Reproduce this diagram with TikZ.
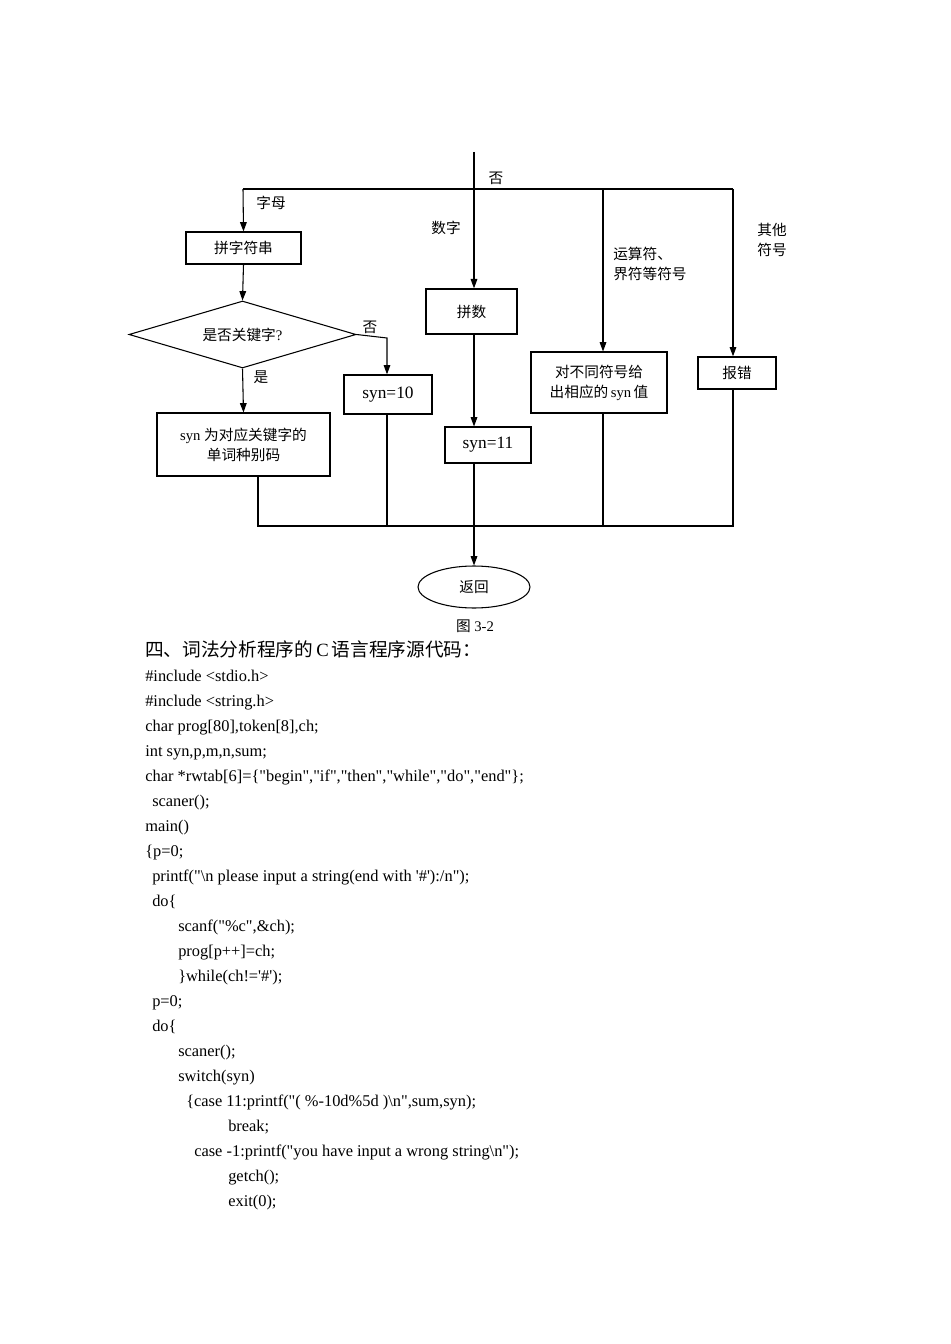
\documentclass[tikz,border=0pt]{standalone}
\usepackage{fontspec}
\setmainfont{Liberation Serif}
\newfontfamily\code{Liberation Serif}
\newfontfamily\cjk{Noto Sans CJK SC}
\usetikzlibrary{arrows.meta,shapes.geometric}
\begin{document}
\begin{tikzpicture}[x=0.75pt,y=-0.75pt,
  ln/.style={line width=0.8pt},
  ar/.style={ln,-{Triangle[length=7pt,width=5pt]}},
  bx/.style={draw,line width=0.8pt,inner sep=0pt,font=\fontsize{11}{15}\selectfont,align=center},
  lb/.style={inner sep=0pt,font=\fontsize{11}{15}\selectfont\cjk,align=left},
  cd/.style={anchor=base west,inner sep=0pt,font=\fontsize{12.3}{14}\selectfont\code}]
\useasboundingbox (0,0) rectangle (950,1344);
% nodes
\node[bx,minimum width=115*0.75pt,minimum height=32*0.75pt] (pz) at (243.5,248) {\cjk 拼字符串};
\node[diamond,draw,line width=0.8pt,aspect=3.4,minimum width=227*0.75pt,minimum height=67*0.75pt,inner sep=0pt,font=\fontsize{11}{15}\selectfont] (dm) at (242.5,334.5) {{\cjk 是否关键字}?};
\node[bx,minimum width=173*0.75pt,minimum height=63*0.75pt] (kw) at (243.5,444.5) {syn {\cjk 为对应关键字的}\\{\cjk 单词种别码}};
\node[bx,minimum width=88*0.75pt,minimum height=39*0.75pt,font=\fontsize{13}{15}\selectfont,line width=1pt] (s10) at (388,394.5) {syn=10};
\node[bx,minimum width=91*0.75pt,minimum height=45*0.75pt,line width=1pt] (ps) at (471.5,311.5) {\cjk 拼数};
\node[bx,minimum width=86*0.75pt,minimum height=36*0.75pt,font=\fontsize{13}{15}\selectfont] (s11) at (488,445) {syn=11};
\node[bx,minimum width=136*0.75pt,minimum height=61*0.75pt] (op) at (599,382.5) {{\cjk 对不同符号给}\\{\cjk 出相应的}\,syn\,{\cjk 值}};
\node[bx,minimum width=78*0.75pt,minimum height=32*0.75pt,line width=1pt] (er) at (737,373) {\cjk 报错};
\node[ellipse,draw,line width=0.8pt,minimum width=112*0.75pt,minimum height=42*0.75pt,inner sep=0pt,font=\fontsize{11}{15}\selectfont\cjk] (rt) at (474,587) {返回};
% coordinates
\coordinate (top) at (474,152);
\coordinate (hl) at (243,189);
\coordinate (hr) at (733,189);
\coordinate (ho) at (603,189);
\coordinate (bl) at (258,526);
\coordinate (b10) at (387,526);
\coordinate (bm) at (474,526);
\coordinate (bo) at (603,526);
\coordinate (br) at (733,526);
\coordinate (nk) at (387,338);
% connectors
\draw[ar] (top) -- (ps.north -| top);
\draw[ln] (hl) -- (hr);
\draw[ar] (hl) -- (pz.north);
\draw[ar] (ho) -- (op.north -| ho);
\draw[ar] (hr) -- (er.north -| hr);
\draw[ar] (pz.south) -- (dm.north);
\draw[ar] (dm.south) -- (kw.north);
\draw[ar] (dm.east) -- (nk) -- (s10.north -| nk);
\draw[ar] (ps.south -| top) -- (s11.north -| top);
\draw[ln] (kw.south -| bl) -- (bl) -- (br) -- (er.south -| br);
\draw[ln] (s10.south -| b10) -- (b10);
\draw[ln,line width=1.2pt] (op.south -| bo) -- (bo);
\draw[ar] (s11.south -| top) -- (rt.north);
% labels
\node[lb] (l1) at (496,178) {否};
\node[lb] (l2) at (271,203) {字母};
\node[lb] (l3) at (446,228) {数字};
\node[lb,anchor=west] (l4) at (613,264) {运算符、\\界符等符号};
\node[lb] (l5) at (772,240) {其他\\符号};
\node[lb] (l6) at (370,327) {否};
\node[lb] (l7) at (261,377) {是};
\node[inner sep=0pt,font=\fontsize{11}{13}\selectfont] (cap) at (475,626) {{\cjk 图} 3-2};
\node[cd,font=\fontsize{14}{16}\selectfont] (hd) at (145,656) {{\cjk 四、词法分析程序的}\,C\,{\cjk 语言程序源代码：}};
% code
\node[cd] (c1) at (145,681) {\#include <stdio.h>};
\node[cd] (c2) at (145,706) {\#include <string.h>};
\node[cd] (c3) at (145,731) {char prog[80],token[8],ch;};
\node[cd] (c4) at (145,756) {int syn,p,m,n,sum;};
\node[cd] (c5) at (145,781) {char *rwtab[6]=\{"begin","if","then","while","do","end"\};};
\node[cd] (c6) at (152,806) {scaner();};
\node[cd] (c7) at (145,831) {main()};
\node[cd] (c8) at (145,856) {\{p=0;};
\node[cd] (c9) at (152,881) {printf("\textbackslash n please input a string(end with '\#'):/n");};
\node[cd] (c10) at (152,906) {do\{};
\node[cd] (c11) at (178,931) {scanf("\%c",\&ch);};
\node[cd] (c12) at (178,956) {prog[p++]=ch;};
\node[cd] (c13) at (178,981) {\}while(ch!='\#');};
\node[cd] (c14) at (152,1006) {p=0;};
\node[cd] (c15) at (152,1031) {do\{};
\node[cd] (c16) at (178,1056) {scaner();};
\node[cd] (c17) at (178,1081) {switch(syn)};
\node[cd] (c18) at (186,1106) {\{case 11:printf("( \%-10d\%5d )\textbackslash n",sum,syn);};
\node[cd] (c19) at (228,1131) {break;};
\node[cd] (c20) at (194,1156) {case -1:printf("you have input a wrong string\textbackslash n");};
\node[cd] (c21) at (228,1181) {getch();};
\node[cd] (c22) at (228,1206) {exit(0);};
\end{tikzpicture}
\end{document}
